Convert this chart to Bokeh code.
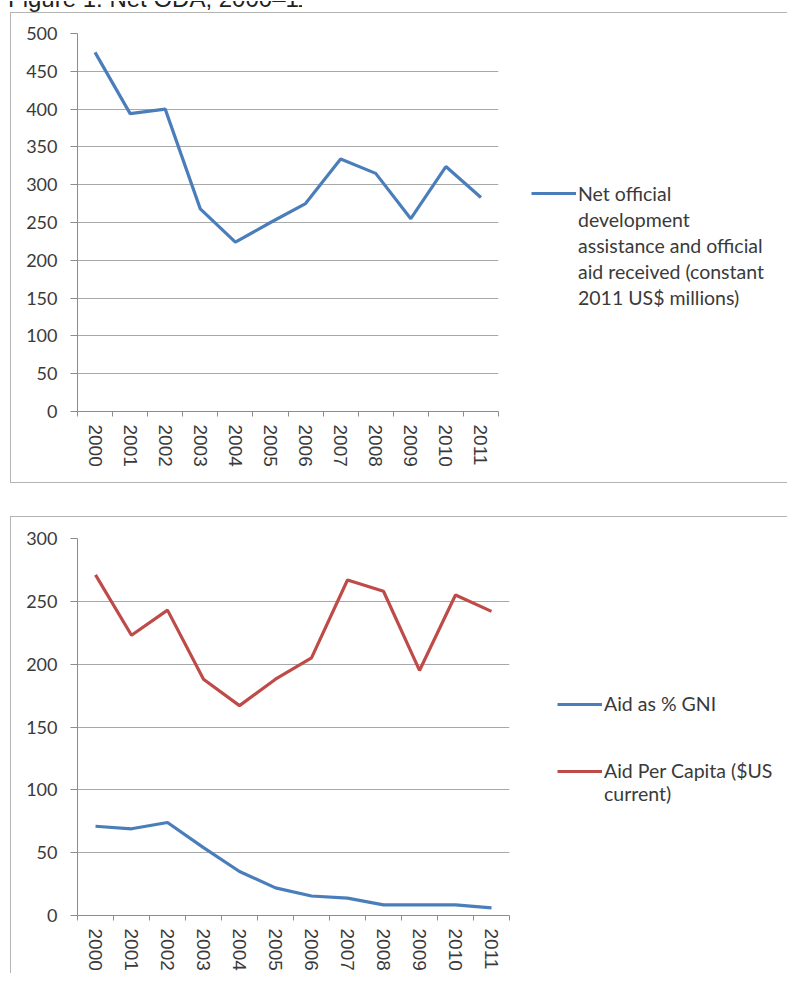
from bokeh.plotting import figure
from bokeh.models import Range1d, FixedTicker, Legend, LegendItem, Div
from bokeh.layouts import column
from bokeh.embed import file_html
from bokeh.resources import INLINE

years = ["2000", "2001", "2002", "2003", "2004", "2005",
         "2006", "2007", "2008", "2009", "2010", "2011"]
net_oda = [475, 394, 400, 268, 224, 250, 275, 334, 315, 255, 324, 283]
aid_gni = [71, 69, 74, 54, 35, 22, 15.5, 13.8, 8.5, 8.5, 8.5, 6]
aid_pc = [271, 223, 243, 188, 167, 188, 205, 267, 258, 195, 255, 242]

top_ticks = [0, 50, 100, 150, 200, 250, 300, 350, 400, 450, 500]
bottom_ticks = [0, 50, 100, 150, 200, 250, 300]
title_text = "Figure 1: Net ODA, 2000\u201311"
top_legend_lines = ["Net official", "development", "assistance and official",
                    "aid received (constant", "2011 US$ millions)"]
bottom_legend_a = ["Aid as % GNI"]
bottom_legend_b = ["Aid Per Capita ($US", "current)"]

BLUE = "#4a7ebb"
RED = "#be4b48"
GRID = "#a8a8a8"
AXIS = "#8c8c8c"
TXT = "#3a3a3a"
BORDER = "#b4b4b4"
W = 775

xs = list(range(len(years)))


def make_fig(fw, fh, ymax, yticks, mb_left, mb_top, mb_bottom):
    p = figure(frame_width=fw, frame_height=fh, output_backend="svg", toolbar_location=None,
               x_range=Range1d(-0.5, len(years) - 0.5), y_range=Range1d(0, ymax),
               min_border_left=mb_left, min_border_top=mb_top,
               min_border_bottom=mb_bottom, min_border_right=W - mb_left - fw)
    p.outline_line_color = None
    p.xgrid.grid_line_color = None
    p.ygrid.grid_line_color = GRID
    p.ygrid.grid_line_width = 1
    p.ygrid.ticker = FixedTicker(ticks=yticks)

    xa = p.xaxis[0]
    xa.ticker = FixedTicker(ticks=xs, minor_ticks=[i - 0.5 for i in range(len(years) + 1)])
    xa.major_label_overrides = {i: y for i, y in enumerate(years)}
    xa.major_label_orientation = "vertical"
    xa.major_tick_line_color = None
    xa.major_tick_out = 0
    xa.major_tick_in = 0
    xa.minor_tick_line_color = AXIS
    xa.minor_tick_out = 5
    xa.minor_tick_in = 0
    xa.axis_line_color = AXIS
    xa.major_label_standoff = 8
    xa.major_label_text_font = "Liberation Sans"
    xa.major_label_text_font_size = "19px"
    xa.major_label_text_color = TXT

    ya = p.yaxis[0]
    ya.ticker = FixedTicker(ticks=yticks)
    ya.major_tick_out = 7
    ya.major_tick_in = 0
    ya.major_tick_line_color = AXIS
    ya.minor_tick_line_color = None
    ya.axis_line_color = AXIS
    ya.major_label_standoff = 13
    ya.major_label_text_font = "Lato"
    ya.major_label_text_font_size = "18px"
    ya.major_label_text_color = TXT
    return p


def style_legend(lg, row_h, spacing):
    lg.border_line_color = None
    lg.background_fill_alpha = 0
    lg.padding = 0
    lg.margin = 0
    lg.spacing = spacing
    lg.glyph_width = 45
    lg.glyph_height = row_h
    lg.label_height = row_h
    lg.label_standoff = 2
    lg.label_text_font = "Lato"
    lg.label_text_font_size = "19.5px"
    lg.label_text_color = TXT


def legend_items(lines, renderer):
    items = [LegendItem(label=lines[0], renderers=[renderer])]
    items += [LegendItem(label=t, renderers=[]) for t in lines[1:]]
    return items


# ---- clipped title strip ----
title = Div(text=(f'<div style="height:11px;overflow:hidden;">'
                  f'<div style="position:relative;top:-16px;left:8px;white-space:nowrap;'
                  f'font-family:\'Liberation Sans\';font-size:24px;line-height:28px;color:#222;">'
                  f'{title_text}</div></div>'),
            width=W + 11, height=11, margin=(0, 0, 0, 0))

# ---- top chart ----
p1 = make_fig(420, 376, 500, top_ticks, 66, 20, 73)
r1 = p1.line(xs, net_oda, line_color=BLUE, line_width=3.2)
lg1 = Legend(items=legend_items(top_legend_lines, r1), location=(33, 101))
style_legend(lg1, 26, 0)
p1.add_layout(lg1, "right")
p1.margin = (1, 0, 0, 10)
p1.styles = {"border-top": f"1px solid {BORDER}", "border-left": f"1px solid {BORDER}",
             "border-bottom": f"1px solid {BORDER}"}

# ---- bottom chart ----
p2 = make_fig(431, 376, 300, bottom_ticks, 65, 21, 59)
r2 = p2.line(xs, aid_gni, line_color=BLUE, line_width=3.2)
r3 = p2.line(xs, aid_pc, line_color=RED, line_width=3.2)
items2 = legend_items(bottom_legend_a, r2) \
    + [LegendItem(label=" ", renderers=[]), LegendItem(label=" ", renderers=[])] \
    + legend_items(bottom_legend_b, r3)
lg2 = Legend(items=items2, location=(48, 110))
style_legend(lg2, 22, -1)
p2.add_layout(lg2, "right")
p2.margin = (33, 0, 0, 10)
p2.styles = {"border-top": f"1px solid {BORDER}", "border-left": f"1px solid {BORDER}"}

layout = column(title, p1, p2, spacing=0)
open("out.html", "w").write(file_html(layout, INLINE))
